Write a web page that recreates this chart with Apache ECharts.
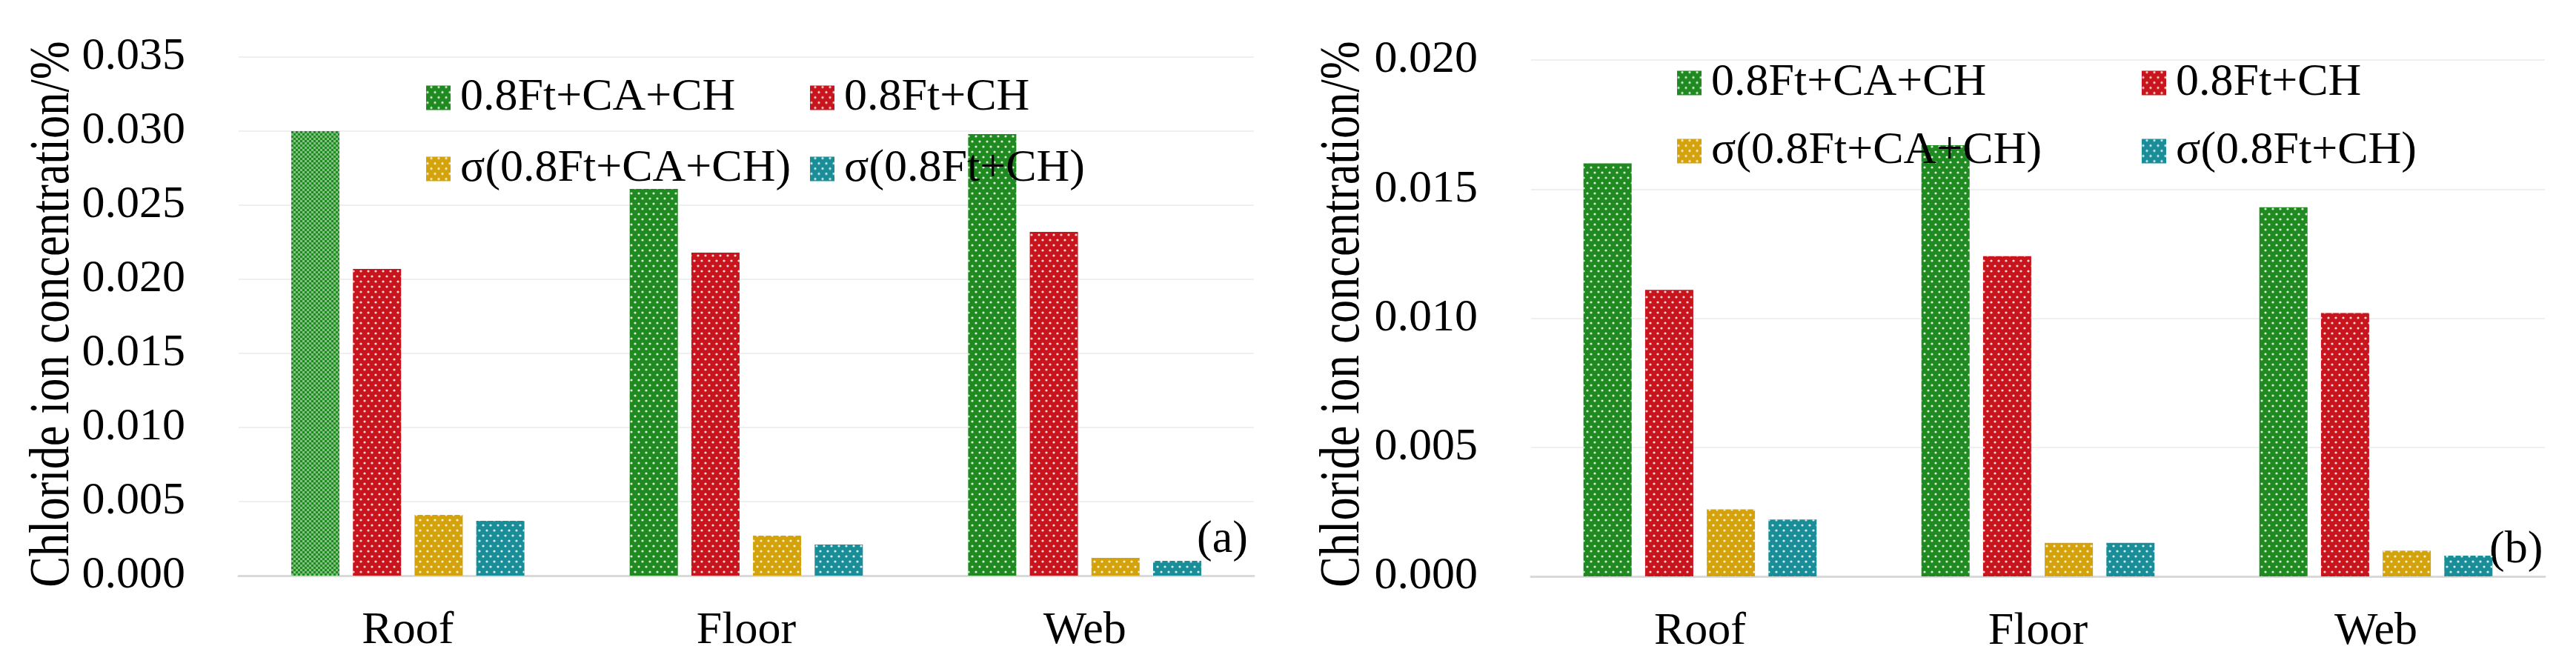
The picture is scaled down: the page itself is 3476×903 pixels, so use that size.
<!DOCTYPE html>
<html>
<head>
<meta charset="utf-8">
<title>Chloride ion concentration</title>
<script src="https://cdn.jsdelivr.net/npm/echarts@6/dist/echarts.min.js"></script>
<style>
  html, body { margin: 0; padding: 0; background: #fff; }
  #chart { width: 3476px; height: 903px; }
</style>
</head>
<body>
<div id="chart"></div>
<script>
// categories and series names
const categories = ["Roof", "Floor", "Web"];
const seriesNames = ["0.8Ft+CA+CH", "0.8Ft+CH", "σ(0.8Ft+CA+CH)", "σ(0.8Ft+CH)"];
const yTitle = "Chloride ion concentration/%";

// panel (a)
const caChA = [0.0300, 0.0261, 0.0298];
const chA = [0.0207, 0.0218, 0.0232];
const sdCaChA = [0.0041, 0.0027, 0.0012];
const sdChA = [0.0037, 0.0021, 0.0010];

// panel (b)
const caChB = [0.0160, 0.0167, 0.0143];
const chB = [0.0111, 0.0124, 0.0102];
const sdCaChB = [0.0026, 0.0013, 0.0010];
const sdChB = [0.0022, 0.0013, 0.0008];

// y axis ticks
const yMaxA = 0.035;
const yMaxB = 0.020;
const yStep = 0.005;

const FONT = '"Liberation Serif", "Times New Roman", serif';
const colors = ["#1f8a1f", "#c8141c", "#d4a20a", "#1a8e98"];

// white dot pattern on the bars
const dots = {
  symbol: "circle",
  symbolSize: 0.8,
  color: "rgba(255,255,255,0.85)",
  dashArrayX: [[4, 6], [0, 5, 4, 1]],
  dashArrayY: [4, 3]
};
// the roof bar in (a) has a finer checker pattern
const checker = {
  symbol: "rect",
  symbolSize: 1,
  color: "rgba(255,255,255,0.45)",
  dashArrayX: [[3, 3], [0, 3, 3, 0]],
  dashArrayY: [3, 0]
};

const chart = echarts.init(document.getElementById("chart"));

function makeSeries(name, values, idx, grid) {
  return {
    name: name,
    type: "bar",
    xAxisIndex: grid,
    yAxisIndex: grid,
    barWidth: 65,
    barGap: "28%",
    itemStyle: { color: colors[idx], decal: dots },
    data: values.map((v, i) => {
      if (grid === 0 && idx === 0 && i === 0) {
        return { value: v, itemStyle: { decal: checker } };
      }
      return v;
    })
  };
}

function legendItem(name, left, top) {
  return {
    data: [name],
    left: left,
    top: top,
    padding: 0,
    icon: "rect",
    itemWidth: 33,
    itemHeight: 33,
    selectedMode: false,
    textStyle: { fontFamily: FONT, fontSize: 62, color: "#000", padding: [0, 0, 0, 8] }
  };
}

function xAxisFor(grid) {
  return {
    type: "category",
    gridIndex: grid,
    data: categories,
    axisTick: { show: false },
    axisLine: { lineStyle: { color: "#d9d9d9", width: 3 } },
    axisLabel: { fontFamily: FONT, fontSize: 62, color: "#000", margin: 44 }
  };
}

function yAxisFor(grid, max) {
  return {
    type: "value",
    gridIndex: grid,
    min: 0,
    max: max,
    interval: yStep,
    axisLine: { show: false },
    axisTick: { show: false },
    axisLabel: {
      fontFamily: FONT,
      fontSize: 62,
      color: "#000",
      margin: 72,
      formatter: v => v.toFixed(3)
    },
    splitLine: { lineStyle: { color: "#efefef", width: 2 } }
  };
}

// the axis title in the original is drawn taller than it is long
function axisTitle(x, y) {
  return {
    type: "text",
    x: x,
    y: y,
    rotation: Math.PI / 2,
    scaleX: 0.82,
    style: {
      text: yTitle,
      fontFamily: FONT,
      fontSize: 76,
      fill: "#000",
      align: "center",
      verticalAlign: "middle"
    }
  };
}

const option = {
  animation: false,
  backgroundColor: "#fff",
  grid: [
    { left: 322, top: 77, width: 1370, height: 700 },
    { left: 2066, top: 81, width: 1368, height: 697 }
  ],
  xAxis: [xAxisFor(0), xAxisFor(1)],
  yAxis: [yAxisFor(0, yMaxA), yAxisFor(1, yMaxB)],
  legend: [
    legendItem(seriesNames[0], 575, 101),
    legendItem(seriesNames[1], 1093, 101),
    legendItem(seriesNames[2], 575, 197),
    legendItem(seriesNames[3], 1093, 197),
    legendItem(seriesNames[0], 2263, 81),
    legendItem(seriesNames[1], 2890, 81),
    legendItem(seriesNames[2], 2263, 173),
    legendItem(seriesNames[3], 2890, 173)
  ],
  graphic: [
    axisTitle(72, 424),
    axisTitle(1813, 424),
    { type: "text", left: 1615, top: 698, style: { text: "(a)", fontFamily: FONT, fontSize: 62, fill: "#000" } },
    { type: "text", left: 3359, top: 712, style: { text: "(b)", fontFamily: FONT, fontSize: 62, fill: "#000" } }
  ],
  series: [
    makeSeries(seriesNames[0], caChA, 0, 0),
    makeSeries(seriesNames[1], chA, 1, 0),
    makeSeries(seriesNames[2], sdCaChA, 2, 0),
    makeSeries(seriesNames[3], sdChA, 3, 0),
    makeSeries(seriesNames[0], caChB, 0, 1),
    makeSeries(seriesNames[1], chB, 1, 1),
    makeSeries(seriesNames[2], sdCaChB, 2, 1),
    makeSeries(seriesNames[3], sdChB, 3, 1)
  ]
};

chart.setOption(option);
</script>
</body>
</html>
